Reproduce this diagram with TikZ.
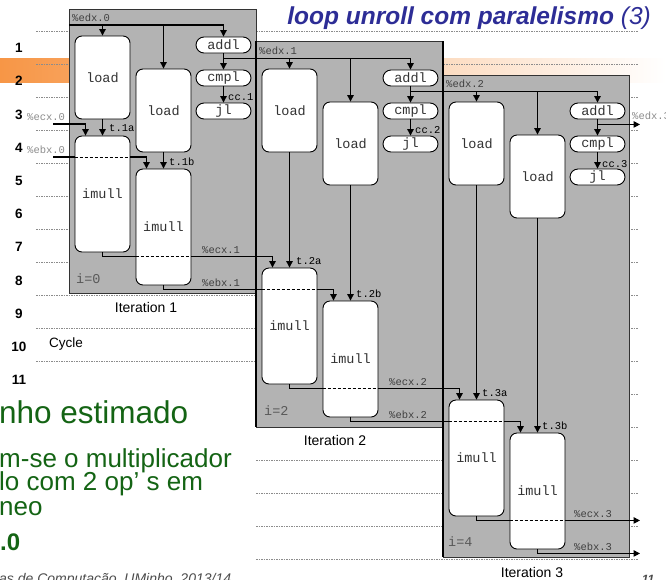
\documentclass[tikz,border=0pt]{standalone}
\usepackage{fontspec}
\setmainfont{Liberation Sans}
\setmonofont{Liberation Mono}
\usetikzlibrary{arrows.meta}
\usetikzlibrary{calc}
\usetikzlibrary{shapes.misc}

\definecolor{itergray}{RGB}{179,179,179}
\definecolor{bandorange}{RGB}{247,150,70}
\definecolor{titleblue}{RGB}{45,45,150}
\definecolor{slidegreen}{RGB}{20,100,20}

\tikzset{
  gridline/.style={black!45,dash pattern=on 1.5pt off 1pt,line width=0.5pt},
  iterbox/.style={fill=itergray,draw=black!80,line width=0.8pt},
  opbox/.style={draw,fill=white,rounded corners=7pt,line width=0.9pt,minimum width=55pt,inner sep=0pt,
    font=\ttfamily\fontsize{13.5}{15}\selectfont,text=black!80},
  loadbox/.style={opbox,minimum height=83pt},
  mulbox/.style={opbox,minimum height=116pt},
  pill/.style={draw,fill=white,rounded rectangle,line width=0.9pt,minimum width=55pt,minimum height=16pt,
    inner sep=0pt,font=\ttfamily\fontsize{13.5}{15}\selectfont,text=black!80},
  wire/.style={line width=1.1pt},
  conn/.style={wire,-{Triangle[length=6.5pt,width=6.5pt]}},
  hid/.style={line width=0.8pt,dash pattern=on 3pt off 2pt},
  reg/.style={anchor=west,inner sep=0pt,font=\ttfamily\fontsize{10.5}{12}\selectfont,text=black!75},
  regout/.style={reg,text=black!45},
  idx/.style={anchor=west,inner sep=0pt,font=\ttfamily\fontsize{13.5}{15}\selectfont,text=black!65},
  cyc/.style={inner sep=0pt,font=\bfseries\fontsize{13.5}{15}\selectfont},
  itlbl/.style={inner sep=0pt,font=\fontsize{14}{16}\selectfont},
  slide/.style={anchor=base west,inner sep=0pt,text=slidegreen}
}

\begin{document}
\begin{tikzpicture}[x=1pt,y=-1pt]
  \useasboundingbox (0,0) rectangle (666,579);

  % band and cycle grid
  \shade[left color=bandorange,right color=white] (0,58) rectangle (666,82);
  \draw[gridline] (36,31) -- (638,31);
  \draw[gridline] (36,64) -- (638,64);
  \draw[gridline] (36,97) -- (638,97);
  \draw[gridline] (36,130) -- (638,130);
  \draw[gridline] (36,163) -- (638,163);
  \draw[gridline] (36,196) -- (638,196);
  \draw[gridline] (36,229) -- (638,229);
  \draw[gridline] (36,262) -- (638,262);
  \draw[gridline] (36,295) -- (638,295);
  \draw[gridline] (36,328) -- (638,328);
  \draw[gridline] (36,361) -- (638,361);
  \draw[gridline] (256,394) -- (638,394);
  \draw[gridline] (256,427) -- (638,427);
  \draw[gridline] (256,460) -- (638,460);
  \draw[gridline] (256,493) -- (638,493);
  \draw[gridline] (256,526) -- (638,526);
  \draw[gridline] (256,559) -- (638,559);

  \node[cyc] (c1) at (19,48) {1};
  \node[cyc] (c2) at (19,81) {2};
  \node[cyc] (c3) at (19,115) {3};
  \node[cyc] (c4) at (19,148) {4};
  \node[cyc] (c5) at (19,181) {5};
  \node[cyc] (c6) at (19,214) {6};
  \node[cyc] (c7) at (19,247) {7};
  \node[cyc] (c8) at (19,281) {8};
  \node[cyc] (c9) at (19,314) {9};
  \node[cyc] (c10) at (19,347) {10};
  \node[cyc] (c11) at (19,380) {11};
  \node[anchor=west,inner sep=0pt,font=\fontsize{13.5}{15}\selectfont] (cyclbl) at (49,344) {Cycle};

  \node[anchor=base east,inner sep=0pt,text=titleblue,font=\fontsize{24.5}{27}\selectfont\bfseries\itshape]
    (title) at (651,24) {loop unroll com paralelismo \mdseries(3)};

  % iterations
  \draw[iterbox] (69,9) rectangle (256,293);
  \draw[iterbox] (256,41) rectangle (443,427);
  \draw[iterbox] (443,75) rectangle (629,557);
  \draw[line width=1.4pt] (256,41) -- (256,427);
  \draw[line width=1.4pt] (443,41) -- (443,557);

  \node[loadbox] (load1a) at (102.5,77.5) {load};
  \node[loadbox] (load1b) at (163.5,110.5) {load};
  \node[pill] (addl1) at (223.5,45) {addl};
  \node[pill] (cmpl1) at (223.5,78) {cmpl};
  \node[pill] (jl1) at (223.5,111) {jl};
  \node[mulbox] (imul1a) at (102.5,194) {imull};
  \node[mulbox] (imul1b) at (163.5,227) {imull};

  \node[loadbox] (load2a) at (289.5,110.5) {load};
  \node[loadbox] (load2b) at (350.5,143.5) {load};
  \node[pill] (addl2) at (410.5,78) {addl};
  \node[pill] (cmpl2) at (410.5,111) {cmpl};
  \node[pill] (jl2) at (410.5,144) {jl};
  \node[mulbox] (imul2a) at (289.5,326) {imull};
  \node[mulbox] (imul2b) at (350.5,359) {imull};

  \node[loadbox] (load3a) at (476.5,143.5) {load};
  \node[loadbox] (load3b) at (537.5,176.5) {load};
  \node[pill] (addl3) at (597.5,111) {addl};
  \node[pill] (cmpl3) at (597.5,144) {cmpl};
  \node[pill] (jl3) at (597.5,177) {jl};
  \node[mulbox] (imul3a) at (476.5,458) {imull};
  \node[mulbox] (imul3b) at (537.5,491) {imull};

  % iteration 1
  \coordinate (edx0) at (69,25);
  \coordinate (ecx0) at (53,124);
  \coordinate (ebx0) at (53,157);
  \coordinate (outx) at (640,0);
  \draw[wire] (edx0) -- (addl1.north |- edx0);
  \draw[conn] (load1a.north |- edx0) -- (load1a.north);
  \draw[conn] (load1b.north |- edx0) -- (load1b.north);
  \draw[conn] (addl1.north |- edx0) -- (addl1.north);
  \draw[wire] (addl1.south) -- ++(0,5) coordinate (edx1) -- (addl2.north |- edx1);
  \draw[conn] (edx1) -- (cmpl1.north);
  \draw[conn] (cmpl1.south) -- (jl1.north);
  \draw[conn] (load1a.south) -- (imul1a.north);
  \draw[conn] (load1b.south) -- (imul1b.north);
  \draw[conn] (ecx0) -| ($(imul1a.north)+(-17,0)$);
  \draw[wire] (ebx0) -- (imul1a.west |- ebx0);
  \draw[hid] (imul1a.west |- ebx0) -- (imul1a.east |- ebx0);
  \draw[conn] (imul1a.east |- ebx0) -| ($(imul1b.north)+(-17,0)$);
  \draw[wire] (imul1a.south) -- ++(0,4) coordinate (ecx1) -- (imul1b.west |- ecx1);
  \draw[hid] (imul1b.west |- ecx1) -- (imul1b.east |- ecx1);
  \draw[conn] (imul1b.east |- ecx1) -| ($(imul2a.north)+(-17,0)$);
  \draw[wire] (imul1b.south) -- ++(0,4) coordinate (ebx1) -- (imul2a.west |- ebx1);
  \draw[hid] (imul2a.west |- ebx1) -- (imul2a.east |- ebx1);
  \draw[conn] (imul2a.east |- ebx1) -| ($(imul2b.north)+(-17,0)$);

  % iteration 2
  \draw[conn] (load2a.north |- edx1) -- (load2a.north);
  \draw[conn] (load2b.north |- edx1) -- (load2b.north);
  \draw[conn] (addl2.north |- edx1) -- (addl2.north);
  \draw[wire] (addl2.south) -- ++(0,5) coordinate (edx2) -- (addl3.north |- edx2);
  \draw[conn] (edx2) -- (cmpl2.north);
  \draw[conn] (cmpl2.south) -- (jl2.north);
  \draw[conn] (load2a.south) -- (imul2a.north);
  \draw[conn] (load2b.south) -- (imul2b.north);
  \draw[wire] (imul2a.south) -- ++(0,4) coordinate (ecx2) -- (imul2b.west |- ecx2);
  \draw[hid] (imul2b.west |- ecx2) -- (imul2b.east |- ecx2);
  \draw[conn] (imul2b.east |- ecx2) -| ($(imul3a.north)+(-17,0)$);
  \draw[wire] (imul2b.south) -- ++(0,4) coordinate (ebx2) -- (imul3a.west |- ebx2);
  \draw[hid] (imul3a.west |- ebx2) -- (imul3a.east |- ebx2);
  \draw[conn] (imul3a.east |- ebx2) -| ($(imul3b.north)+(-17,0)$);

  % iteration 3
  \draw[conn] (load3a.north |- edx2) -- (load3a.north);
  \draw[conn] (load3b.north |- edx2) -- (load3b.north);
  \draw[conn] (addl3.north |- edx2) -- (addl3.north);
  \draw[wire] (addl3.south) -- ++(0,5) coordinate (edx3);
  \draw[conn] (edx3) -- (outx |- edx3);
  \draw[conn] (edx3) -- (cmpl3.north);
  \draw[conn] (cmpl3.south) -- (jl3.north);
  \draw[conn] (load3a.south) -- (imul3a.north);
  \draw[conn] (load3b.south) -- (imul3b.north);
  \draw[wire] (imul3a.south) -- ++(0,4) coordinate (ecx3) -- (imul3b.west |- ecx3);
  \draw[hid] (imul3b.west |- ecx3) -- (imul3b.east |- ecx3);
  \draw[conn] (imul3b.east |- ecx3) -- (outx |- ecx3);
  \draw[conn] (imul3b.south) -- ++(0,4) coordinate (ebx3) -- (outx |- ebx3);

  % register and value labels
  \node[reg] (ledx0) at (72,18) {\%edx.0};
  \node[reg] (ledx1) at (259,51) {\%edx.1};
  \node[reg] (ledx2) at (446,84) {\%edx.2};
  \node[regout] (ledx3) at (632,116) {\%edx.3};
  \node[regout] (lecx0) at (27,117) {\%ecx.0};
  \node[regout] (lebx0) at (27,150) {\%ebx.0};
  \node[reg] (lecx1) at (202,250) {\%ecx.1};
  \node[reg] (lebx1) at (202,283) {\%ebx.1};
  \node[reg] (lecx2) at (389,382) {\%ecx.2};
  \node[reg] (lebx2) at (389,415) {\%ebx.2};
  \node[reg] (lecx3) at (574,514) {\%ecx.3};
  \node[reg] (lebx3) at (574,547) {\%ebx.3};
  \node[reg,text=black] (lt1a) at (109,128) {t.1a};
  \node[reg,text=black] (lt1b) at (169,162) {t.1b};
  \node[reg,text=black] (lt2a) at (296,261) {t.2a};
  \node[reg,text=black] (lt2b) at (356,294) {t.2b};
  \node[reg,text=black] (lt3a) at (482,393) {t.3a};
  \node[reg,text=black] (lt3b) at (542,426) {t.3b};
  \node[reg,text=black] (lcc1) at (228,97) {cc.1};
  \node[reg,text=black] (lcc2) at (415,130) {cc.2};
  \node[reg,text=black] (lcc3) at (602,164) {cc.3};
  \node[idx] (i0) at (76,279) {i=0};
  \node[idx] (i2) at (264,411) {i=2};
  \node[idx] (i4) at (448,542) {i=4};
  \node[itlbl] (it1) at (146,307) {Iteration 1};
  \node[itlbl] (it2) at (335,440) {Iteration 2};
  \node[itlbl] (it3) at (532,572) {Iteration 3};

  % slide text behind
  \node[slide,font=\fontsize{31.5}{34}\selectfont] (perf) at (-1,423) {nho estimado};
  \node[slide,font=\fontsize{26}{28}\selectfont] (line1) at (-1,467) {m-se o multiplicador};
  \node[slide,font=\fontsize{26}{28}\selectfont] (line2) at (-1,490) {lo com 2 op’ s em};
  \node[slide,font=\fontsize{26}{28}\selectfont] (line3) at (-1,515) {neo};
  \node[slide,font=\bfseries\fontsize{24}{28}\selectfont] (cpe) at (0,550) {.0};
  \node[anchor=base west,inner sep=0pt,text=black!70,font=\itshape\fontsize{14}{16}\selectfont]
    (foot) at (-1,583) {as de Computação, UMinho, 2013/14};
  \node[anchor=base,inner sep=0pt,text=black!70,font=\bfseries\itshape\fontsize{12}{14}\selectfont]
    (pgno) at (648,583) {11};
\end{tikzpicture}
\end{document}
